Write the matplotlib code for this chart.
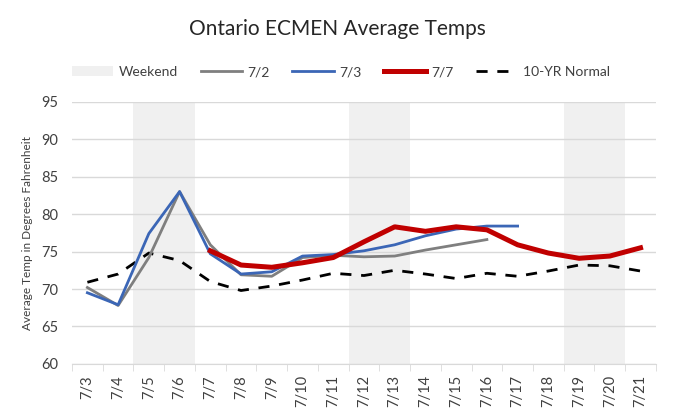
import numpy as np
import matplotlib.pyplot as plt
from matplotlib.patches import Patch
from matplotlib.lines import Line2D

plt.rcParams['font.family'] = ['Lato', 'DejaVu Sans']

days = ['7/3', '7/4', '7/5', '7/6', '7/7', '7/8', '7/9', '7/10', '7/11', '7/12',
        '7/13', '7/14', '7/15', '7/16', '7/17', '7/18', '7/19', '7/20', '7/21']
weekend = [0, 0, 95, 95, 0, 0, 0, 0, 0, 95, 95, 0, 0, 0, 0, 0, 95, 95, 0]
run_72 = [70.2, 67.8, 74.2, 83.0, 75.9, 71.9, 71.7, 74.2, 74.5, 74.3, 74.4, 75.2, 75.9, 76.6,
          None, None, None, None, None]
run_73 = [69.5, 67.9, 77.4, 83.0, 74.7, 72.0, 72.3, 74.4, 74.6, 75.1, 75.9, 77.1, 78.0, 78.4,
          78.4, None, None, None, None]
run_77 = [None, None, None, None, 75.1, 73.2, 72.9, 73.5, 74.2, 76.3, 78.3, 77.7, 78.3, 77.9,
          75.9, 74.8, 74.1, 74.4, 75.5]
normal = [70.9, 72.0, 74.8, 73.8, 71.0, 69.8, 70.4, 71.2, 72.1, 71.8, 72.5, 72.0, 71.4, 72.1,
          71.7, 72.4, 73.2, 73.1, 72.4]

def arr(v):
    return np.array([np.nan if x is None else x for x in v], dtype=float)

x = np.arange(len(days))

fig = plt.figure(figsize=(6.75, 4.15), dpi=100)
ax = fig.add_axes([0.1067, 0.123, 0.865, 0.632])

ax.bar(x, weekend, width=1.0, color='#f0f0f0', zorder=0)
ax.plot(x, arr(run_72), color='#7f7f7f', lw=2.0, zorder=3)
ax.plot(x, arr(run_73), color='#3b66b6', lw=2.0, zorder=4)
ax.plot(x, arr(run_77), color='#c00000', lw=3.6, zorder=5, solid_joinstyle='round')
ax.plot(x, arr(normal), color='black', lw=2.0, dashes=(4, 3.5), zorder=2)

ax.set_xlim(-0.5, len(days) - 0.5)
ax.set_ylim(60, 95)
ax.set_yticks(np.arange(60, 96, 5))
ax.yaxis.grid(True, color='#d9d9d9', lw=1)
ax.set_axisbelow(True)
ax.tick_params(axis='y', length=0, labelsize=10.5, pad=10, colors='#404040')
ax.set_xticks(x)
ax.set_xticklabels(days, rotation=90, fontsize=10.5, color='#404040')
ax.set_xticks(np.arange(-0.5, len(days)), minor=True)
ax.tick_params(axis='x', which='major', length=0, pad=8)
ax.tick_params(axis='x', which='minor', length=5, color='#d9d9d9')
for s in ['top', 'right', 'left']:
    ax.spines[s].set_visible(False)
ax.spines['bottom'].set_color('#d9d9d9')
ax.set_ylabel('Average Temp in Degrees Fahrenheit', fontsize=8.5, color='#404040', labelpad=6)

fig.text(0.5, 0.93, 'Ontario ECMEN Average Temps', ha='center', va='center',
         fontsize=15, color='#262626')

handles = [Patch(facecolor='#f0f0f0', edgecolor='none'),
           Line2D([], [], color='#7f7f7f', lw=2.0),
           Line2D([], [], color='#3b66b6', lw=2.0),
           Line2D([], [], color='#c00000', lw=3.6),
           Line2D([], [], color='black', lw=2.0, dashes=(4, 3.5))]
labels = ['Weekend', '7/2', '7/3', '7/7', '10-YR Normal']
fig.legend(handles, labels, loc='center', bbox_to_anchor=(0.505, 0.826), ncol=5,
           frameon=False, fontsize=10, handlelength=3.0, columnspacing=1.6,
           handletextpad=0.4, labelcolor='#404040')

fig.savefig('out.png', dpi=100)
